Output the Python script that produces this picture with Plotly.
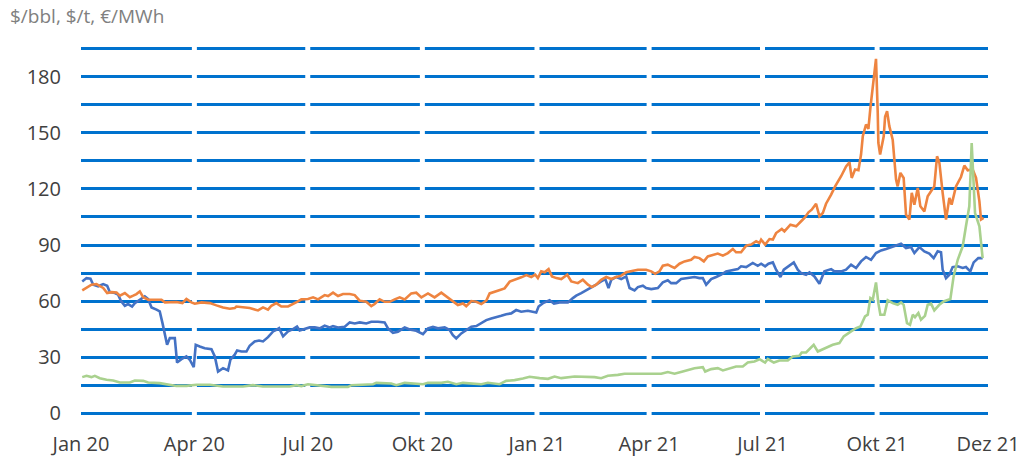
import pandas as pd
import plotly.graph_objects as go

START = "2020-01-01"

# Oil (Brent, $/bbl) - days since start, values
oil_days = [1, 4.4, 7.6, 9.8, 13.8, 17.8, 21, 23.1, 27.2, 29.8, 32, 35.2, 37.8, 41, 43.2, 47.2, 51.2, 53.9, 56.6, 60.6,
            63.2, 65.4, 67.3, 69.1, 71.3, 75.3, 77.1, 80.6, 84.6, 87.3, 90.5, 92.1, 95.3, 99.3, 104.7, 107.4, 110, 114, 118, 119.9,
            123.4, 125.3, 128.8, 132.8, 135.4, 139.4, 142.9, 146.1, 150.1, 154.2, 156.8, 159, 162.2, 166.2, 170.2, 173.4, 175.5, 180.9, 183.6, 187.6,
            191.6, 195.6, 199.6, 202.3, 206.3, 211.7, 215.7, 219.7, 223.7, 229, 233, 238.4, 243.7, 246.4, 250.4, 254.4, 257.1, 259.8, 263.8, 269.1,
            274.5, 278.5, 282.5, 286.5, 291.9, 295.9, 298.5, 301.2, 305.2, 309.2, 313.3, 317.3, 321.3, 325.3, 329.3, 333.3, 337.3, 341.3, 345.3, 349.3,
            353.3, 358.7, 361.4, 365.4, 367.3, 370.8, 376.1, 379.6, 384.1, 390.8, 394.8, 397.5, 401.5, 405.5, 409.5, 413.5, 417.5, 420.8, 423.4, 425.6,
            429.6, 433.6, 437.6, 440.3, 444.3, 447, 451, 453.6, 457.7, 463, 467, 471, 473.7, 477.7, 481.7, 487.1, 492.4, 496.4, 499.1, 501.8,
            505.8, 509.8, 513.8, 517.8, 523.2, 527.2, 529.8, 533.9, 539.2, 543.2, 545.9, 549.1, 551.8, 555.3, 557.9, 561.4, 564.1, 567.3, 572.1, 575.3,
            578, 582, 584.7, 588.7, 592.7, 596.7, 602.1, 604.7, 610.1, 614.1, 618.1, 622.1, 626.1, 630.1, 634.1, 638.1, 642.2, 646.2, 650.2, 654.2,
            658.2, 662.2, 666.2, 668.9, 672.9, 676.9, 680.9, 684.4, 687.6, 690.3, 691.6, 694.3, 697, 699.6, 703.7, 707.7, 710.3, 713.8, 716.5, 720.2,
            723.7]
oil_vals = [70.5, 72.3, 72, 68.75, 67.9, 69.1, 68.2, 64.8, 64.3, 63.4, 60.2, 57.5, 58.4, 57.1, 58.9, 60.7, 62.5, 61.1, 56.6, 55.4,
            54.5, 48.2, 41.1, 36.6, 40.2, 40.2, 27.1, 28.9, 30.4, 28.6, 24.6, 36.6, 35.7, 34.8, 34.3, 30.4, 22.3, 24.1, 22.9, 28.6,
            31.3, 33.6, 33, 33, 36.1, 38.4, 38.9, 38.4, 40.7, 43.75, 44.6, 45.5, 41.1, 43.75, 45, 46.4, 44.3, 45.4, 45.9, 45.9,
            45.4, 46.8, 45.9, 46.6, 45.9, 46.25, 48.6, 48, 48.6, 48, 48.9, 48.9, 48.6, 45.4, 43, 43.6, 44.8, 45.9, 44.8, 44.1,
            42.3, 45.4, 46.25, 45.4, 45.9, 44.5, 41.8, 40, 42.7, 44.5, 46.25, 46.6, 48, 49.8, 50.7, 51.25, 52.1, 53, 53.4, 55.2,
            54.3, 54.8, 54.5, 53.9, 57.1, 58.9, 60.4, 58.6, 59.3, 59.3, 61.6, 62.9, 64.3, 65.7, 67.5, 68.75, 70.5, 71.8, 67, 71.4,
            72.9, 71.8, 73.2, 67, 65.7, 67.5, 68.2, 67, 66.4, 67, 70, 71.1, 69.6, 69.6, 71.8, 72.3, 72.9, 72.3, 72.3, 68.75,
            71.8, 72.9, 74.1, 75.9, 76.4, 77.1, 78.6, 78.2, 80.4, 78.9, 80, 78.6, 80, 80.7, 76.8, 72.9, 76.8, 78.2, 80.7, 76.8,
            75, 74.1, 75.4, 73.2, 69.3, 75.9, 77.1, 75.9, 75.9, 76.8, 79.5, 77.7, 81.25, 83.6, 82.1, 85.7, 87.1, 87.9, 88.9, 89.6,
            90.7, 88.4, 88.9, 85.7, 88.9, 86.6, 85.4, 83, 86.6, 86.1, 76.8, 72.3, 74.1, 78.2, 78.6, 77.7, 78.2, 75.9, 80.7, 83,
            83]

# Coal ($/t)
coal_days = [1, 4.4, 8.4, 12.4, 15.1, 17.8, 21, 24.5, 28.5, 31.2, 35.2, 39.2, 41.9, 44.5, 47.2, 49.9, 53.9, 59.2, 64.6, 67.3,
             71.3, 76.6, 81.4, 84.6, 88.6, 91.3, 96.7, 103.4, 108.7, 114, 119.4, 123.4, 124.7, 130.1, 135.4, 142.1, 146.1, 150.1, 152.8, 156.8,
             160.8, 166.2, 171.5, 174.2, 176.9, 182.2, 186.3, 190.3, 195.6, 198.3, 202.3, 206.3, 210.3, 215.7, 219.7, 223.7, 229, 233, 235.7, 239.7,
             243.7, 247.8, 251.8, 255.8, 259.8, 265.1, 269.1, 273.2, 278.5, 283.8, 289.2, 294.5, 298.5, 302.5, 306.6, 309.2, 313.3, 317.3, 321.3, 325.3,
             328, 332, 336, 340, 344.1, 348.1, 353.4, 357.4, 361.4, 364.6, 366.7, 369.4, 372.1, 375.3, 378, 381.5, 385.5, 390.3, 393.5, 398.8,
             402.8, 406.9, 410.1, 413.5, 417.5, 421.6, 425.6, 429.6, 433.6, 437.6, 441.6, 447, 453.6, 457.7, 460.9, 464.3, 467, 471, 473.7, 476.4,
             480.4, 484.4, 489.7, 492.4, 496.4, 499.9, 503.1, 507.1, 511.1, 515.2, 519.2, 523.2, 525.8, 529.8, 533.9, 537.9, 541.9, 544.6, 545.9, 549.1,
             552.6, 555.3, 557.9, 562.5, 564.6, 569.4, 574, 578, 580.7, 583.9, 586.5, 590, 592.7, 595.4, 598, 602.1, 605.3, 610.1, 614.1, 616.8,
             618.6, 621.3, 624, 626.1, 627.5, 630.1, 632, 633.6, 636.8, 638.1, 639.5, 640, 641.4, 644.3, 645.4, 647, 648.8, 651.5, 654.2, 655.5,
             657.7, 660.3, 662.2, 664.9, 666.8, 668.9, 671.6, 673.7, 676.9, 679.6, 682.3, 684.9, 687.1, 689, 691.6, 694.3, 697, 698.8, 702.3, 706.3,
             709, 711.7, 715.7, 718.4, 721.1, 722.4, 724.5]
coal_vals = [65.7, 67, 68.75, 69.1, 68.2, 67, 64.3, 64.8, 64.6, 62.9, 64.3, 62.1, 62.9, 63.75, 65.2, 62.1, 60.7, 60.7, 60.7, 59.3,
             59.5, 59.5, 58.9, 61.1, 59.3, 58.6, 59.3, 58.9, 57.7, 56.6, 55.9, 56.25, 57.1, 56.6, 56.25, 55, 56.6, 55.4, 57.5, 58.9,
             57.1, 57.1, 58.6, 59.8, 60.9, 61.1, 62, 60.9, 63.2, 62.7, 64.5, 62.7, 63.75, 63.75, 63.2, 60.2, 59.6, 57.3, 58.4, 60.9,
             59.6, 59.6, 60.9, 62, 60.9, 64.1, 64.5, 62, 64.1, 62, 64.5, 62, 60.2, 57.9, 58.75, 57.3, 60, 59.6, 58.4, 60.2,
             64.1, 65, 65.5, 66.8, 70.4, 71.25, 72.7, 73.9, 72.9, 74.1, 72.3, 75.9, 75.4, 77.1, 73.2, 72.3, 71.8, 74.1, 70.5, 69.6,
             71.4, 68.75, 67.5, 68.75, 71.4, 72.9, 71.8, 72.9, 73.6, 75.4, 75.9, 76.8, 76.8, 75.9, 74.6, 75.9, 78.9, 79.5, 78.6, 77.7,
             80, 81.25, 82.1, 83.6, 83, 81.25, 83.9, 84.8, 85.4, 84.3, 85.7, 87.9, 86.1, 86.1, 89.6, 90.2, 92, 91.1, 92.9, 90.2,
             93.2, 92.9, 96.4, 98.6, 97.3, 100.9, 100, 102.7, 104.5, 107.5, 108.9, 112.1, 105.4, 107.1, 112.1, 117, 121.4, 126.8, 132.1, 134.3,
             125.9, 130.4, 130, 138.4, 148.2, 154.5, 152.1, 163.4, 182.1, 189.6, 160.7, 144.6, 138.4, 148.2, 158.6, 161.6, 153.6, 146.4, 125, 121.4,
             128.6, 125.9, 106.25, 103.6, 117.9, 111.6, 120.5, 110.7, 108, 116.1, 118.75, 121.4, 137.5, 133.9, 117.9, 103.6, 115.2, 111.6, 121.4, 126.4,
             132.5, 130, 130.4, 125.9, 113.4, 103.6, 104.5]

# Gas (TTF, EUR/MWh)
gas_days = [1, 4.4, 8.4, 11.1, 15.1, 20.5, 25.8, 31.2, 39.2, 43.2, 49.9, 53.9, 63.2, 68.6, 76.6, 84.6, 92.7, 103.4, 114, 130,
            138, 146, 156.8, 167.5, 172.9, 176.9, 182.2, 190.3, 201, 214.3, 217, 234.4, 237, 249, 253.1, 259.8, 267.8, 274.5, 278.5, 289.2,
            294.5, 301.2, 306.6, 321.3, 326.6, 336, 341.3, 348, 354.7, 360.1, 368.1, 374.8, 380.1, 385.5, 396.2, 404.2, 412.2, 417.5, 422.9, 430.9,
            436.3, 441.6, 455, 465.7, 471, 476.4, 483, 488.4, 492.4, 499.1, 501, 505.8, 511.1, 515.2, 520.5, 525.8, 531.2, 535.2, 540.5, 544.6,
            549.1, 551.3, 556.1, 560.6, 567.3, 571.3, 576.6, 578.5, 582, 588.1, 591.4, 598, 603.4, 608.7, 612.2, 618.1, 622.1, 625.6, 629.3, 631.5,
            633.6, 635.5, 638.1, 640, 641.6, 644.8, 647.5, 651.5, 655.5, 658.2, 660.3, 663, 665.4, 667.6, 669.4, 672.1, 674.2, 677.4, 679.6, 682.3,
            684.9, 688.9, 692.4, 697.8, 700.4, 703.7, 707.7, 710.3, 713, 714.9, 716.2, 717.6, 721.1, 722.4, 723.7]
gas_vals = [19.3, 20, 19.3, 20, 18.75, 17.9, 17.5, 16.4, 16.4, 17.5, 17.3, 16.4, 16.1, 15.5, 14.6, 14.6, 15.2, 15.2, 14.3, 14.3,
            15, 14.3, 14.3, 14.3, 15, 14.5, 15.5, 15, 14.1, 14.1, 15, 15.5, 16.25, 15.9, 15, 16.25, 15.9, 15.5, 16.25, 16.25,
            16.8, 15.5, 16.25, 15.5, 16.25, 15.5, 17.3, 17.7, 18.6, 19.5, 18.75, 18.4, 19.6, 18.75, 19.6, 19.6, 19.3, 18.75, 20, 20.5,
            21.1, 21.1, 21.1, 21.1, 22, 21.1, 22.3, 23.2, 24.1, 24.6, 22.3, 23.6, 24.1, 22.9, 24.1, 25, 25, 27.1, 27.7, 28.9,
            27.1, 29, 27.1, 28.2, 28.2, 30.4, 30.7, 32.5, 32.5, 36.6, 33, 34.8, 36.6, 37.5, 41.1, 43.75, 45.5, 46.4, 51.8, 52.7,
            61.6, 60.7, 70, 58.9, 52.7, 52.7, 60.4, 58.9, 58, 59.3, 58, 48.2, 47.3, 52.7, 51.4, 53.6, 50, 52.1, 58, 58.6,
            55, 58, 59.8, 61.1, 73.2, 82.1, 89.3, 100, 110.7, 144.6, 125, 107.1, 100, 92.9, 83]

tick_dates = ["2020-01-01", "2020-04-01", "2020-07-01", "2020-10-01", "2021-01-01",
              "2021-04-01", "2021-07-01", "2021-10-01", "2021-12-29"]
tick_labels = ["Jan 20", "Apr 20", "Jul 20", "Okt 20", "Jan 21", "Apr 21", "Jul 21", "Okt 21", "Dez 21"]

y_ticks = list(range(0, 196, 15))
y_labels = [str(v) if v % 30 == 0 and v <= 180 else "" for v in y_ticks]
y_range = [-1.5, 196.5]

start = pd.Timestamp(START)


def to_dates(days):
    return start + pd.to_timedelta(days, unit="D")


fig = go.Figure()

# white gaps in the horizontal grid at each inner quarter tick (drawn above grid, below data)
gap_x, gap_y = [], []
for d in tick_dates[1:-1]:
    gap_x += [d, d, None]
    gap_y += [y_range[0], y_range[1], None]
fig.add_trace(go.Scatter(x=gap_x, y=gap_y, mode="lines", hoverinfo="skip", showlegend=False,
                         line=dict(color="white", width=5)))

fig.add_trace(go.Scatter(x=to_dates(oil_days), y=oil_vals, mode="lines", name="Öl",
                         line=dict(color="#4472C4", width=2.6)))
fig.add_trace(go.Scatter(x=to_dates(coal_days), y=coal_vals, mode="lines", name="Kohle",
                         line=dict(color="#EE8440", width=2.6)))
fig.add_trace(go.Scatter(x=to_dates(gas_days), y=gas_vals, mode="lines", name="Gas",
                         line=dict(color="#A9D18E", width=2.6)))

font_family = "Open Sans, DejaVu Sans, sans-serif"
fig.update_layout(
    width=1027, height=457,
    margin=dict(l=81, r=39, t=46, b=41, autoexpand=False),
    paper_bgcolor="white", plot_bgcolor="white",
    showlegend=False,
    font=dict(family=font_family, size=19, color="#404040"),
    title=dict(text="$/bbl, $/t, €/MWh", x=10 / 1027, xanchor="left", xref="container",
               y=1 - 16 / 457, yanchor="middle", yref="container",
               font=dict(family=font_family, size=19, color="#808080")),
)
fig.update_xaxes(
    type="date", range=[tick_dates[0], tick_dates[-1]], automargin=False,
    tickmode="array", tickvals=tick_dates, ticktext=tick_labels,
    showgrid=False, zeroline=False, showline=False, ticks="",
    ticklabelstandoff=14,
    tickfont=dict(size=20, color="#404040"),
)
fig.update_yaxes(
    range=y_range, automargin=False, tickmode="array", tickvals=y_ticks, ticktext=y_labels,
    showgrid=True, gridcolor="#0072CE", gridwidth=3,
    zeroline=False, showline=False, ticks="", ticklabelstandoff=19,
    tickfont=dict(size=20, color="#404040"),
)

# remove the browser's default 8px body margin so the figure fills the window exactly
fig.write_html("out.html", config={"displayModeBar": False},
               post_script="document.body.style.margin='0px';")
